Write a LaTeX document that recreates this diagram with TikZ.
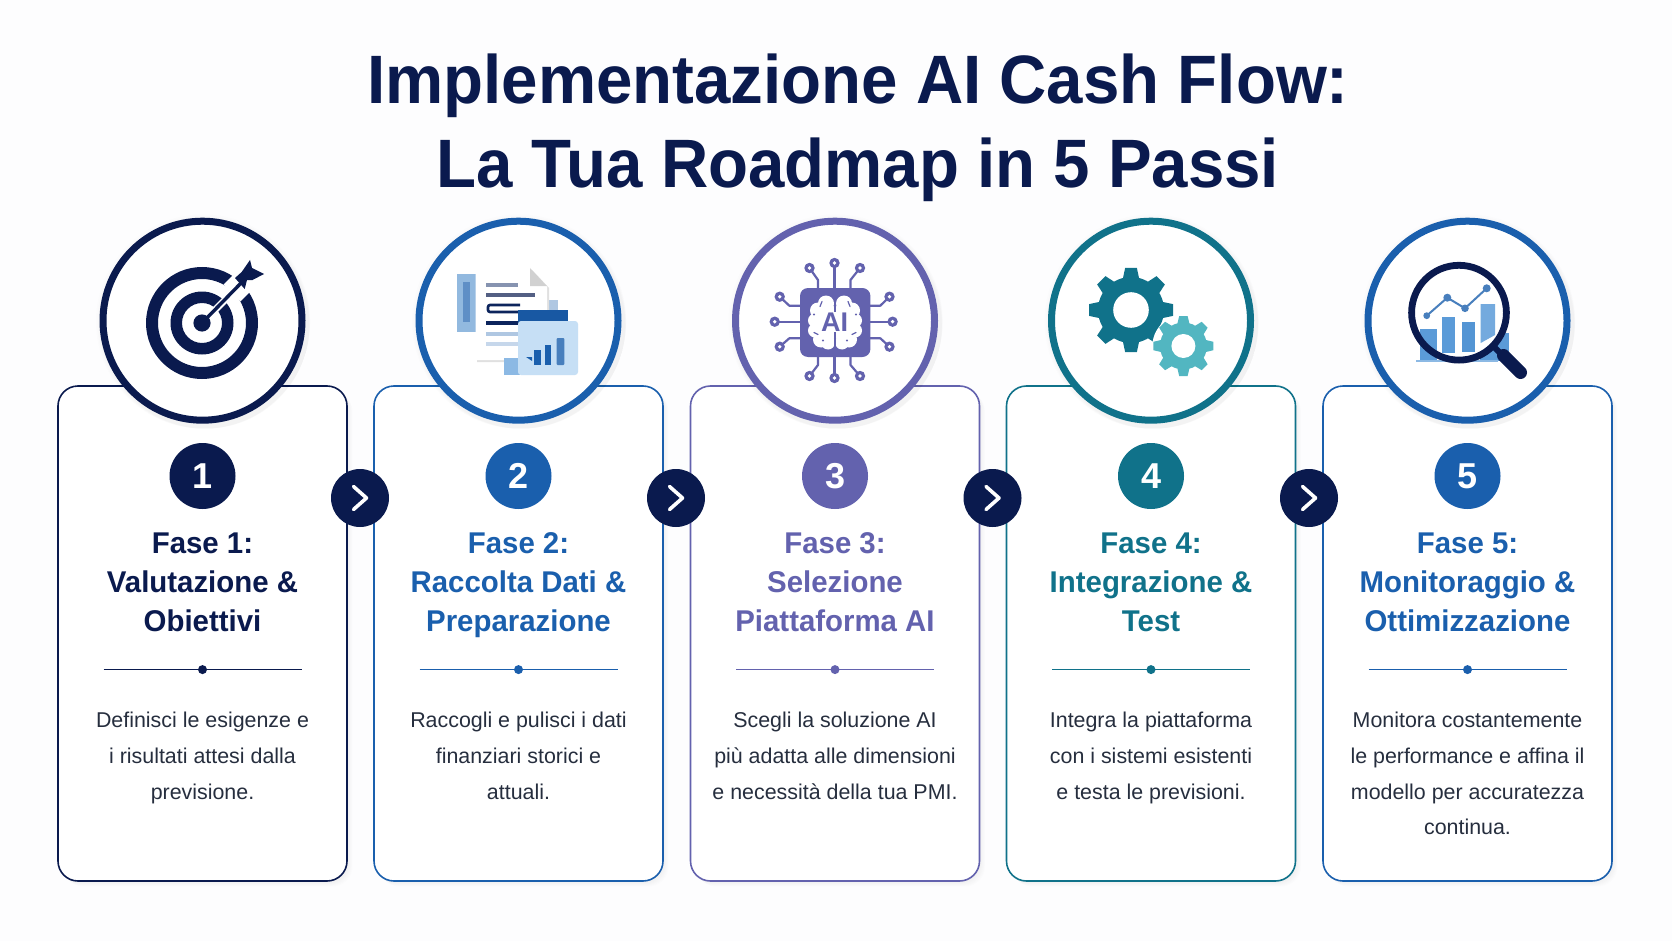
\documentclass[tikz,border=0pt]{standalone}
\usepackage{fontspec}
\setmainfont{Liberation Sans}
\newfontfamily\headf[FakeStretch=0.98]{Liberation Sans}
\newfontfamily\titlef[FakeStretch=0.955]{Liberation Sans}
\usetikzlibrary{calc}
\definecolor{bgc}{HTML}{FDFDFE}
\definecolor{navy}{HTML}{0A1A4E}
\definecolor{blu}{HTML}{1A5FAD}
\definecolor{purp}{HTML}{6362AE}
\definecolor{teal1}{HTML}{10728A}
\definecolor{teal2}{HTML}{52B6C1}
\definecolor{bodyc}{HTML}{262E3E}
\definecolor{ltblue}{HTML}{C6DFF5}
\definecolor{midblue}{HTML}{5B9BD8}
\tikzset{
  x=1pt,y=-1pt,
  cardbox/.style={draw=#1,line width=1.6pt,rounded corners=20pt,fill=white,minimum width=289pt,minimum height=495pt,inner sep=0pt},
  bigring/.style={circle,draw=#1,line width=7pt,fill=white,minimum size=199pt,inner sep=0pt},
  numdot/.style={circle,fill=#1,minimum size=66pt,inner sep=0pt,text=white,font=\fontsize{36}{36}\selectfont\bfseries},
  nextdot/.style={circle,fill=navy,minimum size=58pt,inner sep=0pt},
  chev/.style={draw=white,line width=3.6pt,line cap=round,line join=round},
  headtxt/.style={text=#1,align=center,anchor=base,inner sep=0pt,font=\headf\fontsize{30}{39}\selectfont\bfseries},
  bodytxt/.style={text=bodyc,align=center,anchor=base,inner sep=0pt,font=\fontsize{21.4}{35.8}\selectfont},
  titletxt/.style={text=navy,align=center,anchor=base,inner sep=0pt,font=\titlef\fontsize{68.5}{83.5}\selectfont\bfseries},
  divline/.style={draw=#1,line width=1.5pt},
  trace/.style={draw=purp,line width=2.2pt,line join=round},
  softshadow/.style={fill=black,opacity=0.008}
}
\newcommand{\phase}[6]{%
  \foreach \k in {1,...,7}{\fill[softshadow,rounded corners=20pt] (#2-144.5+\k*0.8,386+\k*0.8) rectangle (#2+144.5+\k*0.8,881+\k*0.8);}
  \node[cardbox=#3] (card#1) at (#2,633.5) {};
  \foreach \k in {2,4,...,12}{\fill[softshadow] (#2+\k*0.3,320.7+\k*0.4) circle (103+5-\k*0.4);}
  \node[bigring=#3] (ring#1) at (#2,320.7) {};
  \node[numdot=#3] (num#1) at (#2,476) {#1};
  \node[headtxt=#3] (head#1) at (#2,631.7) {#4};
  \coordinate (divl#1) at (#2-99,669.6);
  \coordinate (divr#1) at (#2+99,669.6);
  \draw[divline=#3] (divl#1) -- (divr#1);
  \node[circle,fill=#3,minimum size=9pt,inner sep=0pt] (dot#1) at (#2,669.6) {};
  \node[bodytxt] (body#1) at (#2,#6) {#5};
}
\newcommand{\nextarrow}[2]{%
  \node[nextdot] (next#1) at (#2,498) {};
  \draw[chev] ([shift={(-6.5,-11.5)}]next#1.center) -- ([shift={(6.5,0)}]next#1.center) -- ([shift={(-6.5,11.5)}]next#1.center);
}
\newcommand{\gearshape}[7]{% x y root outer hole toothwidth color
  \fill[#7] (#1,#2) circle (#3);
  \foreach \a in {0,45,...,315}{
    \begin{scope}[shift={(#1,#2)},rotate=\a]
      \fill[#7] (-#6/2-1,-#3+1) -- (-#6*0.42,-#4) -- (#6*0.42,-#4) -- (#6/2+1,-#3+1) -- cycle;
    \end{scope}}
  \fill[white] (#1,#2) circle (#5);
}
\newcommand{\pinend}[2]{\fill[purp] (#1,#2) circle (5.2); \fill[white] (#1,#2) circle (1.9);}
\begin{document}
\begin{tikzpicture}
\useasboundingbox (0,0) rectangle (1672,941);
\fill[bgc] (0,0) rectangle (1672,941);
\node[titletxt] (title) at (858,187.5) {Implementazione AI Cash Flow:\\La Tua Roadmap in 5 Passi};

\phase{1}{202.5}{navy}{Fase 1:\\Valutazione \&\\Obiettivi}{Definisci le esigenze e\\i risultati attesi dalla\\previsione.}{799}
\phase{2}{518.5}{blu}{Fase 2:\\Raccolta Dati \&\\Preparazione}{Raccogli e pulisci i dati\\finanziari storici e\\attuali.}{799}
\phase{3}{835}{purp}{Fase 3:\\Selezione\\Piattaforma AI}{Scegli la soluzione AI\\più adatta alle dimensioni\\e necessità della tua PMI.}{799}
\phase{4}{1151}{teal1}{Fase 4:\\Integrazione \&\\Test}{Integra la piattaforma\\con i sistemi esistenti\\e testa le previsioni.}{799}
\phase{5}{1467.5}{blu}{Fase 5:\\Monitoraggio \&\\Ottimizzazione}{Monitora costantemente\\le performance e affina il\\modello per accuratezza\\continua.}{834.8}

\nextarrow{1}{360}
\nextarrow{2}{676}
\nextarrow{3}{992.5}
\nextarrow{4}{1309}

% icon 1: target
\begin{scope}
  \fill[navy,even odd rule] (202,323) circle (56) (202,323) circle (44);
  \fill[navy,even odd rule] (202,323) circle (31.5) (202,323) circle (20);
  \fill[navy] (202,323) circle (8.6);
  \draw[white,line width=7pt] (211,314) -- (232,293);
  \draw[white,line width=24pt] (232,293) -- (248,277);
  \draw[navy,line width=3.4pt] (202,323) -- (243,281);
  \fill[navy] (250,260) -- (252,268) -- (264,274) -- (252.5,280) -- (247,280) -- (244.7,289) -- (235,278) -- (241.7,272) -- cycle;
\end{scope}

% icon 2: documents
\begin{scope}
  \fill[ltblue!70!blu] (457,274) rectangle (478,332);
  \fill[blu!70] (463,282) rectangle (470,322);
  \fill[blu!35] (536,300) rectangle (558,315);
  \fill[black!12] (477,270) -- (532,270) -- (549,288) -- (549,362) -- (477,362) -- cycle;
  \fill[white,rounded corners=1pt] (475.5,268) -- (530,268) -- (547,286) -- (547,360) -- (475.5,360) -- cycle;
  \fill[black!18] (530,268) -- (547,286) -- (530,286) -- cycle;
  \fill[blu!20!navy!50] (486,282.5) rectangle (517.5,287);
  \fill[navy!70] (486,293) rectangle (534.5,297);
  \draw[navy!85!blu,line width=2.6pt,rounded corners=2pt] (520,305) -- (488,305) -- (488,312) -- (520,312);
  \fill[navy!85!blu] (486,320.5) rectangle (520,324.5);
  \fill[blu!35] (486,331.5) rectangle (520,336);
  \fill[blu!25] (486,341.5) rectangle (520,346);
  \fill[midblue!70] (504,358) rectangle (520,375);
  \fill[blu!90!navy] (518,310) rectangle (568,323);
  \fill[ltblue,rounded corners=3pt] (518,321) rectangle (578,375);
  \fill[blu] (534.4,350) rectangle (540.6,365);
  \fill[blu] (545,345) rectangle (551.3,365);
  \fill[blu!80,rounded corners=1pt] (556.7,338) rectangle (564.3,365);
  \fill[blu] (526,357) -- (532,357) -- (532,361) -- cycle;
\end{scope}

% icon 3: AI chip
\begin{scope}
  \draw[trace] (834.5,263) -- (834.5,288);
  \draw[trace] (809.5,268) -- (818,280) -- (818,288);
  \draw[trace] (860,268) -- (850.5,280) -- (850.5,288);
  \draw[trace] (834.5,378) -- (834.5,357);
  \draw[trace] (809.5,376) -- (818,365) -- (818,357);
  \draw[trace] (860,376) -- (850.5,365) -- (850.5,357);
  \draw[trace] (774.7,321.7) -- (800,321.7);
  \draw[trace] (779.7,296.7) -- (789.3,305.7) -- (800,305.7);
  \draw[trace] (779.7,346.7) -- (789.3,338.3) -- (800,338.3);
  \draw[trace] (892.6,321.7) -- (870,321.7);
  \draw[trace] (889.5,296.7) -- (880.3,305.7) -- (870,305.7);
  \draw[trace] (889.5,346.7) -- (880.3,338.3) -- (870,338.3);
  \pinend{834.5}{263}\pinend{809.5}{268}\pinend{860}{268}
  \pinend{834.5}{378}\pinend{809.5}{376}\pinend{860}{376}
  \pinend{774.7}{321.7}\pinend{779.7}{296.7}\pinend{779.7}{346.7}
  \pinend{892.6}{321.7}\pinend{889.5}{296.7}\pinend{889.5}{346.7}
  \fill[purp,rounded corners=8pt] (800,288) rectangle (870.4,357);
  \foreach \s in {-1,1}{
    \foreach \px/\py/\pr in {9/-19/8,17/-12/8,20/-2/7,20/8/7,14/17/8,7/20/7,9/0/12,9/10/10,9/-10/10}{
      \fill[white] (835+\s*\px,322.5+\py) circle (\pr);
    }
    \draw[purp,line width=1.2pt,line cap=round] (835+\s*13,322.5-21) -- (835+\s*15,322.5-16);
    \fill[purp] (835+\s*21,322.5-8) circle (1.1);
    \fill[purp] (835+\s*12,322.5+18) circle (1.1);
    \draw[purp,line width=1.2pt,line cap=round] (835+\s*21,322.5+10) -- (835+\s*17,322.5+12);
  }
  \draw[purp,line width=1.6pt] (835,294) -- (835,312);
  \draw[purp,line width=1.6pt] (835,332) -- (835,351);
  \node[anchor=base,inner sep=0pt,text=purp,font=\fontsize{27}{27}\selectfont\bfseries] (ailabel) at (834.5,331.7) {AI};
\end{scope}

% icon 4: gears
\gearshape{1131}{310}{33}{42}{17.8}{14}{teal1}
\fill[white] (1183.4,346) circle (31);
\gearshape{1183.4}{346}{23.5}{30}{12}{10}{teal2}

% icon 5: magnifier and chart
\begin{scope}
  \fill[midblue] (1420,329) rectangle (1436.7,360.7);
  \fill[midblue] (1497,333) rectangle (1509,360.7);
  \fill[midblue] (1480,345) rectangle (1498,360.7);
  \fill[midblue!70] (1416,360) rectangle (1498,361.5);
  \fill[white] (1459,312.7) circle (48);
  \begin{scope}
    \clip (1459,312.7) circle (47);
    \fill[midblue] (1420,329) rectangle (1436.7,360.7);
    \fill[midblue] (1441.7,316.7) rectangle (1455,353);
    \fill[midblue!90!blu] (1462.3,322) rectangle (1475,352);
    \fill[midblue!85] (1480.7,304) -- (1495,304) -- (1495,335) -- (1480.7,343) -- cycle;
  \end{scope}
  \draw[blu!80,line width=2pt] (1426.7,315.7) -- (1447.3,297.7) -- (1465,308.3) -- (1486.7,288.3);
  \fill[blu!80] (1426.7,315.7) circle (3.4) (1447.3,297.7) circle (4) (1465,308.3) circle (3.8) (1486.7,288.3) circle (4);
  \draw[navy,line width=6.8pt] (1459,312.7) circle (47.4);
  \draw[navy,line width=6pt] (1493,346) -- (1503,356);
  \draw[navy,line width=13pt,line cap=round] (1503.5,355.5) -- (1520.5,372.5);
\end{scope}
\end{tikzpicture}
\end{document}
